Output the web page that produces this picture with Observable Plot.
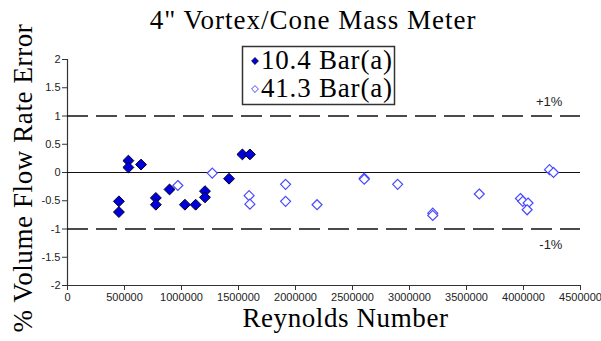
<!DOCTYPE html>
<html>
<head>
<meta charset="utf-8">
<script src="https://cdn.jsdelivr.net/npm/d3@7"></script>
<script src="https://cdn.jsdelivr.net/npm/@observablehq/plot@0.6"></script>
<style>
  html, body { margin: 0; padding: 0; background: #fff; }
  #chart { position: relative; width: 601px; height: 341px; }
</style>
</head>
<body>
<div id="chart"></div>
<script>
const chartTitle = "4\" Vortex/Cone Mass Meter";
const xTitle = "Reynolds Number";
const yTitle = "% Volume Flow Rate Error";
const seriesNames = ["10.4 Bar(a)", "41.3 Bar(a)"];
const xTicks = [0, 500000, 1000000, 1500000, 2000000, 2500000, 3000000, 3500000, 4000000, 4500000];
const yTicks = [-2, -1.5, -1, -0.5, 0, 0.5, 1, 1.5, 2];
const limitValues = [1, -1];
const limitLabels = ["+1%", "-1%"];

const re104 = [451000, 451000, 534000, 534000, 645000, 775000, 775000, 895000, 1030000, 1124000, 1206000, 1206000, 1417000, 1534000, 1600000];
const err104 = [-0.51, -0.70, 0.21, 0.09, 0.14, -0.45, -0.57, -0.30, -0.57, -0.57, -0.33, -0.44, -0.11, 0.32, 0.32];

const re413 = [968000, 1270000, 1593000, 1600000, 1913000, 1913000, 2189000, 2603000, 2603000, 2896000, 3204000, 3204000, 3612000, 3973000, 3994000, 4040000, 4032000, 4228000, 4263000];
const err413 = [-0.23, -0.01, -0.41, -0.56, -0.21, -0.51, -0.57, -0.10, -0.12, -0.21, -0.72, -0.76, -0.38, -0.46, -0.51, -0.54, -0.66, 0.05, 0.00];

const s1 = re104.map((x, i) => ({x, y: err104[i]}));
const s2 = re413.map((x, i) => ({x, y: err413[i]}));

const fillBlue = "#0000dd";
const openBlue = "#4a4aff";

const plot = Plot.plot({
  width: 601,
  height: 341,
  marginLeft: 67,
  marginRight: 21,
  marginTop: 59,
  marginBottom: 56,
  style: {fontFamily: "'Liberation Sans', Arial, sans-serif", fontSize: "11px", color: "#222", background: "#fff"},
  x: {domain: [0, 4500000]},
  y: {domain: [-2, 2]},
  marks: [
    Plot.axisX({ticks: xTicks, tickSize: 5, tickPadding: 3, tickFormat: d => String(d), label: null, stroke: "#333", fontFamily: "'Liberation Sans', Arial, sans-serif"}),
    Plot.axisY({ticks: yTicks, tickSize: 5, tickPadding: 2, tickFormat: d => String(d), label: null, stroke: "#333", fontFamily: "'Liberation Sans', Arial, sans-serif"}),
    Plot.ruleX([0], {stroke: "#333", strokeWidth: 1.2}),
    Plot.ruleY([-2], {stroke: "#333", strokeWidth: 1.2}),
    Plot.ruleY(limitValues, {stroke: "#111", strokeWidth: 1.3, strokeDasharray: "21,8"}),
    Plot.ruleY([0], {stroke: "#111", strokeWidth: 1.2}),
    Plot.text([limitValues[0]], {x: 4225000, y: d => d, text: () => limitLabels[0], dy: -14, fontSize: 13, fill: "#222", fontFamily: "'Liberation Sans', Arial, sans-serif"}),
    Plot.text([limitValues[1]], {x: 4240000, y: d => d, text: () => limitLabels[1], dy: 16, fontSize: 13, fill: "#222", fontFamily: "'Liberation Sans', Arial, sans-serif"}),
    Plot.dot(s1, {x: "x", y: "y", symbol: "diamond2", r: 4.9, fill: fillBlue, stroke: "#000022", strokeWidth: 1}),
    Plot.dot(s2, {x: "x", y: "y", symbol: "diamond2", r: 4.5, fill: "white", stroke: openBlue, strokeWidth: 1.2})
  ]
});

document.getElementById("chart").appendChild(plot);

const svg = d3.select(plot);
const serif = "'Liberation Serif', 'Times New Roman', serif";

svg.append("text")
  .attr("x", 313).attr("y", 29)
  .attr("text-anchor", "middle")
  .attr("font-family", serif).attr("font-size", 27).attr("letter-spacing", 1.0)
  .attr("fill", "#000")
  .text(chartTitle);

svg.append("text")
  .attr("transform", "translate(32,178) rotate(-90)")
  .attr("text-anchor", "middle")
  .attr("font-family", serif).attr("font-size", 27).attr("letter-spacing", 0.6)
  .attr("fill", "#000")
  .text(yTitle);

svg.append("text")
  .attr("x", 345.5).attr("y", 327)
  .attr("text-anchor", "middle")
  .attr("font-family", serif).attr("font-size", 27).attr("letter-spacing", 0.6)
  .attr("fill", "#000")
  .text(xTitle);

// Legend
const lg = svg.append("g");
lg.append("rect").attr("x", 242.5).attr("y", 46.5).attr("width", 152).attr("height", 58)
  .attr("fill", "white").attr("stroke", "#333").attr("stroke-width", 1.5);
const sym = d3.symbol().type(d3.symbolDiamond2).size(30);
lg.append("path").attr("d", sym()).attr("transform", "translate(255,61)")
  .attr("fill", fillBlue).attr("stroke", "#000022").attr("stroke-width", 0.8);
lg.append("path").attr("d", sym()).attr("transform", "translate(255,89)")
  .attr("fill", "white").attr("stroke", openBlue).attr("stroke-width", 1);
lg.append("text").attr("x", 261).attr("y", 69).attr("text-anchor", "start")
  .attr("font-family", serif).attr("font-size", 27).attr("letter-spacing", 0.8).attr("fill", "#000")
  .text(seriesNames[0]);
lg.append("text").attr("x", 261).attr("y", 97).attr("text-anchor", "start")
  .attr("font-family", serif).attr("font-size", 27).attr("letter-spacing", 0.8).attr("fill", "#000")
  .text(seriesNames[1]);
</script>
</body>
</html>
